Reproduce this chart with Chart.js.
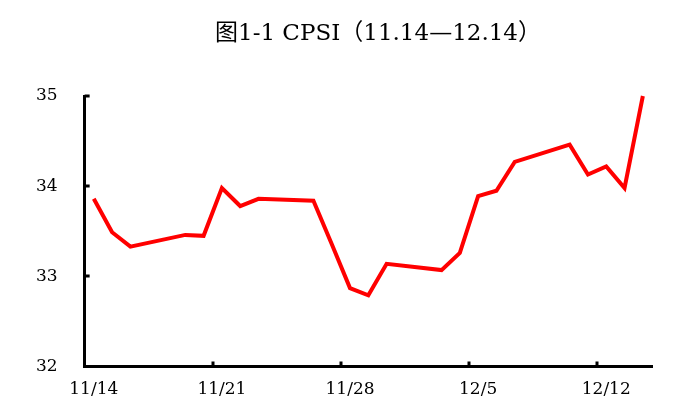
<!DOCTYPE html>
<html>
<head>
<meta charset="utf-8">
<script src="https://cdn.jsdelivr.net/npm/chart.js@4/dist/chart.umd.min.js"></script>
<style>
html,body{margin:0;padding:0;background:#fff;}
#wrap{width:691px;height:411px;}
</style>
</head>
<body>
<div id="wrap"><canvas id="c" width="691" height="411"></canvas></div>
<script>
const TITLE = "图1-1 CPSI（11.14—12.14）";
const dates = ["11/14","11/15","11/16","11/17","11/18","11/19","11/20","11/21","11/22","11/23",
  "11/24","11/25","11/26","11/27","11/28","11/29","11/30","12/1","12/2","12/3",
  "12/4","12/5","12/6","12/7","12/8","12/9","12/10","12/11","12/12","12/13","12/14"];
const cpsi = [33.86,33.49,33.33,null,null,33.46,33.45,33.98,33.78,33.86,
  null,null,33.84,33.36,32.87,32.79,33.14,null,null,33.07,
  33.26,33.89,33.95,34.27,null,null,34.46,34.13,34.22,33.98,35.0];
const yTicks = [32,33,34,35];
const labelEvery = 7;

const serif = "'DejaVu Serif','Noto Sans CJK SC',serif";

const titlePlugin = {
  id: 'customTitle',
  afterDraw(chart) {
    const ctx = chart.ctx;
    ctx.save();
    ctx.fillStyle = '#000';
    ctx.font = "23px " + serif;
    ctx.textAlign = 'center';
    ctx.textBaseline = 'middle';
    ctx.fillText(TITLE, 378, 34);
    ctx.restore();
  }
};

const innerTicks = {
  id: 'innerTicks',
  afterDraw(chart) {
    const ctx = chart.ctx;
    const xs = chart.scales.x, ys = chart.scales.y;
    const a = chart.chartArea;
    const band = xs.getPixelForValue(1) - xs.getPixelForValue(0);
    ctx.save();
    ctx.strokeStyle = '#000';
    ctx.lineWidth = 3;
    ctx.beginPath();
    for (let i = labelEvery; i < dates.length; i += labelEvery) {
      const x = Math.round(xs.getPixelForValue(i) - band / 2);
      ctx.moveTo(x, a.bottom);
      ctx.lineTo(x, a.bottom - 5);
    }
    yTicks.forEach(v => {
      if (v === ys.min) return;
      const y = Math.round(ys.getPixelForValue(v));
      ctx.moveTo(a.left, y);
      ctx.lineTo(a.left + 5, y);
    });
    ctx.stroke();
    ctx.restore();
  }
};

new Chart(document.getElementById('c'), {
  type: 'line',
  data: {
    labels: dates,
    datasets: [{
      data: cpsi,
      borderColor: '#FF0000',
      borderWidth: 4,
      pointRadius: 0,
      tension: 0,
      spanGaps: true,
      clip: false,
      borderJoinStyle: 'miter'
    }]
  },
  options: {
    responsive: false,
    animation: false,
    devicePixelRatio: 1,
    layout: { padding: { left: 9, right: 39, top: 96, bottom: -2 } },
    plugins: { legend: { display: false }, title: { display: false }, tooltip: { enabled: false } },
    scales: {
      x: {
        type: 'category',
        offset: true,
        grid: { display: true, drawOnChartArea: false, drawTicks: false, offset: true, color: 'rgba(0,0,0,0)' },
        border: { display: true, color: '#000', width: 3 },
        ticks: {
          autoSkip: false,
          maxRotation: 0,
          minRotation: 0,
          padding: 13,
          color: '#000',
          font: { family: serif, size: 17 },
          callback: function(v, i) { return i % labelEvery === 0 ? dates[i] : ''; }
        }
      },
      y: {
        min: yTicks[0],
        max: yTicks[yTicks.length - 1],
        afterBuildTicks: (s) => { s.ticks = yTicks.map(v => ({ value: v })); },
        grid: { display: true, drawOnChartArea: false, drawTicks: false, color: 'rgba(0,0,0,0)' },
        border: { display: true, color: '#000', width: 3 },
        ticks: {
          padding: 27,
          color: '#000',
          font: { family: serif, size: 17 }
        }
      }
    }
  },
  plugins: [titlePlugin, innerTicks]
});
</script>
</body>
</html>
